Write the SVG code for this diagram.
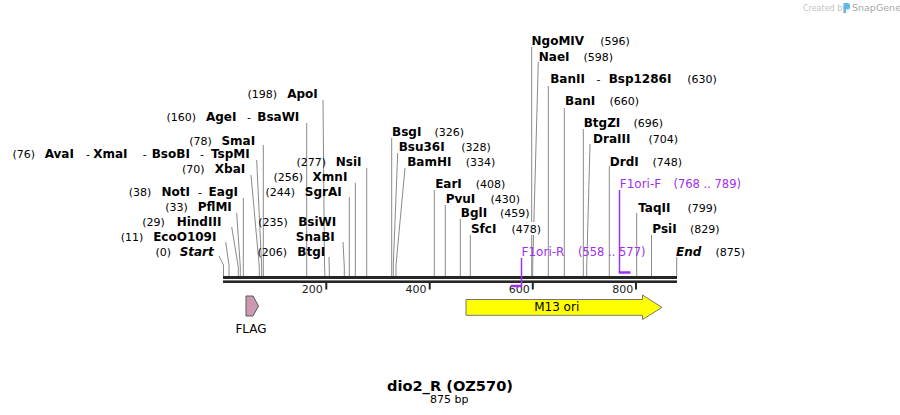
<svg xmlns="http://www.w3.org/2000/svg" width="900" height="415" viewBox="0 0 900 415">
<style>
text{font-family:"DejaVu Sans","Liberation Sans",sans-serif;text-anchor:middle;fill:#000}
.n{font-size:12px;font-weight:bold}
.s{font-size:12px;font-weight:bold;font-style:italic}
.p{font-size:11px}
.d{font-size:11px}
.pr{font-size:12px;fill:#a030f0}
.prn{font-size:11.5px;fill:#a030f0}
.lead{fill:none;stroke:#8a8a8a;stroke-width:1}
.br{fill:none;stroke:#a030f0}
.bar{fill:#262626}
.tick{stroke:#262626;stroke-width:2}
.tl{font-size:11px;fill:#222}
.wm1{font-size:8px;fill:#c4c4c4;text-anchor:start}
.wm2{font-size:9.5px;fill:#a8a8a8;text-anchor:start}
</style>
<rect width="900" height="415" fill="#fff"/>

<g id="watermark">
<text class="wm1" x="803" y="11">Created by</text>
<path d="M843.5,3 h4 a2.5,2.5 0 0 1 2.5,2.5 v1.5 a2.5,2.5 0 0 1 -2.5,2.5 h-1.5 v3.5 h-2.5 z" fill="#62b6ea"/>
<text class="wm2" x="852" y="11">SnapGene</text>
</g>

<g id="connectors">
<polyline class="lead" points="219,256 223.5,265 223.5,276"/>
<polyline class="lead" points="225.7,242 229,265 229,276"/>
<polyline class="lead" points="231.7,227 238.3,267 238.3,276"/>
<polyline class="lead" points="236.7,213 240.3,267 240.3,276"/>
<polyline class="lead" points="243.3,198 243.3,276"/>
<polyline class="lead" points="251,175 259.3,267 259.3,276"/>
<polyline class="lead" points="256.7,160 261.7,267 261.7,276"/>
<polyline class="lead" points="263.3,145 263.3,276"/>
<polyline class="lead" points="306.7,123 306.7,276"/>
<polyline class="lead" points="323,100 324.5,267 325,276"/>
<polyline class="lead" points="329,257 329.4,276"/>
<polyline class="lead" points="343,242 344.3,267 344.3,276"/>
<polyline class="lead" points="349.3,197 349.3,276"/>
<polyline class="lead" points="355.3,183 355.3,276"/>
<polyline class="lead" points="366.7,168 366.7,276"/>
<polyline class="lead" points="391.7,138 391.7,276"/>
<polyline class="lead" points="397.7,153 393.3,265 393.3,276"/>
<polyline class="lead" points="405,168 396,265 396,276"/>
<polyline class="lead" points="434.3,190 434.3,276"/>
<polyline class="lead" points="445.3,205 445.3,276"/>
<polyline class="lead" points="460.3,219 460.3,276"/>
<polyline class="lead" points="470.3,235 470.3,276"/>
<polyline class="lead" points="531.7,47 531.7,276"/>
<polyline class="lead" points="538.3,62 532.7,265 532.7,276"/>
<polyline class="lead" points="548.3,86 548.3,276"/>
<polyline class="lead" points="564.3,108 564.3,276"/>
<polyline class="lead" points="583.3,129 583.3,276"/>
<polyline class="lead" points="590,144 586.7,267 586.7,276"/>
<polyline class="lead" points="609.3,166 609.3,276"/>
<polyline class="lead" points="636.7,213 636.7,276"/>
<polyline class="lead" points="651.5,235 651.5,276"/>
<polyline class="lead" points="676.7,257 676.7,276"/>
</g>

<g id="map">
<rect class="bar" x="223" y="276" width="454" height="3"/>
<rect class="bar" x="223" y="280.4" width="454" height="2.6"/>
<line class="tick" x1="326.3" y1="283" x2="326.3" y2="289.5"/>
<line class="tick" x1="429.7" y1="283" x2="429.7" y2="289.5"/>
<line class="tick" x1="532.8" y1="283" x2="532.8" y2="289.5"/>
<line class="tick" x1="636" y1="283" x2="636" y2="289.5"/>
<text class="tl" x="312.3" y="292.7">200</text>
<text class="tl" x="416" y="292.7">400</text>
<text class="tl" x="519.3" y="292.7">600</text>
<text class="tl" x="622.7" y="292.7">800</text>
</g>

<g id="site-ApoI"><text class="p" x="262.3" y="98">(198)</text><text class="n" x="302.5" y="98">ApoI</text></g>
<g id="site-AgeI"><text class="p" x="181.3" y="120.5">(160)</text><text class="n" x="221.2" y="120.5">AgeI</text><text class="d" x="249" y="120.5">-</text><text class="n" x="278.3" y="120.5">BsaWI</text></g>
<g id="site-SmaI"><text class="p" x="200.5" y="144.5">(78)</text><text class="n" x="238.3" y="144.5">SmaI</text></g>
<g id="site-AvaI"><text class="p" x="23.8" y="158">(76)</text><text class="n" x="59.3" y="158">AvaI</text><text class="d" x="88" y="158">-</text><text class="n" x="110.3" y="158">XmaI</text><text class="d" x="144.7" y="158">-</text><text class="n" x="170.8" y="158">BsoBI</text><text class="d" x="202" y="158">-</text><text class="n" x="230.3" y="158">TspMI</text></g>
<g id="site-XbaI"><text class="p" x="193.3" y="173.3">(70)</text><text class="n" x="230" y="173.3">XbaI</text></g>
<g id="site-NotI"><text class="p" x="140" y="196">(38)</text><text class="n" x="175.7" y="196">NotI</text><text class="d" x="200" y="196">-</text><text class="n" x="223.3" y="196">EagI</text></g>
<g id="site-PflMI"><text class="p" x="176.5" y="211">(33)</text><text class="n" x="214.8" y="211">PflMI</text></g>
<g id="site-HindIII"><text class="p" x="153.5" y="226">(29)</text><text class="n" x="199" y="226">HindIII</text></g>
<g id="site-EcoO109I"><text class="p" x="132" y="241">(11)</text><text class="n" x="184.8" y="241">EcoO109I</text></g>
<g id="site-Start"><text class="p" x="163.2" y="256">(0)</text><text class="s" x="196.7" y="256">Start</text></g>

<g id="site-NsiI"><text class="p" x="311.3" y="166">(277)</text><text class="n" x="348.7" y="166">NsiI</text></g>
<g id="site-XmnI"><text class="p" x="288.3" y="181">(256)</text><text class="n" x="330" y="181">XmnI</text></g>
<g id="site-SgrAI"><text class="p" x="280.3" y="196">(244)</text><text class="n" x="323.3" y="196">SgrAI</text></g>
<g id="site-BsiWI"><text class="p" x="273" y="226">(235)</text><text class="n" x="317.2" y="226">BsiWI</text></g>
<g id="site-SnaBI"><text class="n" x="315.3" y="241">SnaBI</text></g>
<g id="site-BtgI"><text class="p" x="272.3" y="256">(206)</text><text class="n" x="311.3" y="256">BtgI</text></g>

<g id="site-BsgI"><text class="n" x="406.7" y="136">BsgI</text><text class="p" x="449.2" y="136">(326)</text></g>
<g id="site-Bsu36I"><text class="n" x="421.7" y="151">Bsu36I</text><text class="p" x="476" y="151">(328)</text></g>
<g id="site-BamHI"><text class="n" x="429.3" y="166">BamHI</text><text class="p" x="480.5" y="166">(334)</text></g>
<g id="site-EarI"><text class="n" x="448.5" y="187.7">EarI</text><text class="p" x="490.5" y="187.7">(408)</text></g>
<g id="site-PvuI"><text class="n" x="460.5" y="202.7">PvuI</text><text class="p" x="505.3" y="202.7">(430)</text></g>
<g id="site-BglI"><rect x="498" y="207" width="33" height="13" fill="#fff"/><text class="n" x="474" y="217.3">BglI</text><text class="p" x="514.7" y="217.3">(459)</text></g>
<g id="site-SfcI"><rect x="510" y="222" width="33" height="13" fill="#fff"/><text class="n" x="483.7" y="232.7">SfcI</text><text class="p" x="526.3" y="232.7">(478)</text></g>

<g id="site-NgoMIV"><text class="n" x="557.8" y="45">NgoMIV</text><text class="p" x="615" y="45">(596)</text></g>
<g id="site-NaeI"><text class="n" x="554.2" y="60.7">NaeI</text><text class="p" x="598.3" y="60.7">(598)</text></g>
<g id="site-BanII"><text class="n" x="567.5" y="83.3">BanII</text><text class="d" x="598.5" y="83.3">-</text><text class="n" x="640" y="83.3">Bsp1286I</text><text class="p" x="702" y="83.3">(630)</text></g>
<g id="site-BanI"><text class="n" x="580.2" y="105.3">BanI</text><text class="p" x="624.3" y="105.3">(660)</text></g>
<g id="site-BtgZI"><text class="n" x="602" y="127.3">BtgZI</text><text class="p" x="648.3" y="127.3">(696)</text></g>
<g id="site-DraIII"><text class="n" x="611.7" y="143.3">DraIII</text><text class="p" x="663.3" y="143.3">(704)</text></g>
<g id="site-DrdI"><text class="n" x="624.3" y="166">DrdI</text><text class="p" x="667.3" y="166">(748)</text></g>
<g id="site-TaqII"><text class="n" x="654.3" y="211.7">TaqII</text><text class="p" x="702.3" y="211.7">(799)</text></g>
<g id="site-PsiI"><text class="n" x="664.5" y="233.3">PsiI</text><text class="p" x="704.7" y="233.3">(829)</text></g>
<g id="site-End"><text class="s" x="688.7" y="256">End</text><text class="p" x="730.3" y="256">(875)</text></g>

<g id="primer-F1ori-F">
<polyline class="br" stroke-width="1.5" points="619.5,190 619.5,272.5"/>
<line class="br" stroke-width="2.5" x1="618.8" y1="272.5" x2="630.5" y2="272.5"/>
<text class="pr" x="640.5" y="188.3">F1ori-F</text><text class="prn" x="707.2" y="188.3">(768 .. 789)</text>
</g>
<g id="primer-F1ori-R">
<polyline class="br" stroke-width="1.5" points="521.5,258 521.5,286"/>
<line class="br" stroke-width="2.5" x1="510.8" y1="286" x2="522.2" y2="286"/>
<text class="pr" x="543" y="256">F1ori-R</text><text class="prn" x="611.7" y="256">(558 .. 577)</text>
</g>

<g id="feature-FLAG">
<path d="M246,296 L253,296 L258.5,306 L253,316 L246,316 Z" fill="#cc99b3" stroke="#5a5a5a" stroke-width="1"/>
<text style="font-size:12px" x="251" y="332.7">FLAG</text>
</g>
<g id="feature-M13ori">
<path d="M466,299.5 L642.5,299.5 L642.5,295 L662,307.4 L642.5,319.5 L642.5,315.3 L466,315.3 Z" fill="#ffff00" stroke="#777" stroke-width="1"/>
<text style="font-size:12px" x="556.7" y="311">M13 ori</text>
</g>

<g id="title">
<text style="font-size:14.6px;font-weight:bold" x="450" y="390.5">dio2_R (OZ570)</text>
<text style="font-size:11px" x="449.2" y="402.5">875 bp</text>
</g>
</svg>
